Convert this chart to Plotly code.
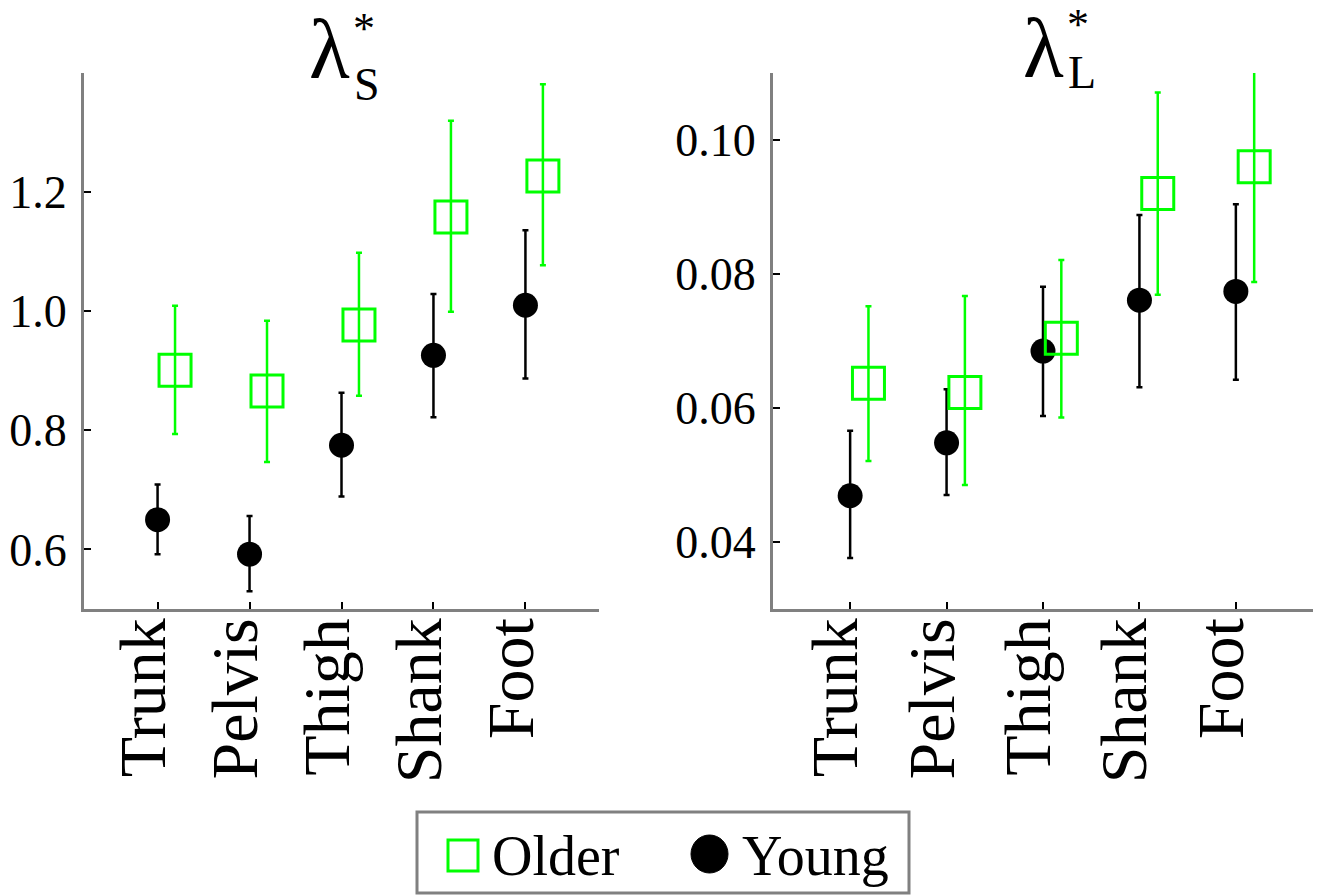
import plotly.graph_objects as go

categories = ["Trunk", "Pelvis", "Thigh", "Shank", "Foot"]

# lambda*_S
s_young = [0.650, 0.592, 0.775, 0.926, 1.010]
s_young_hi = [0.709, 0.656, 0.863, 1.029, 1.136]
s_young_lo = [0.592, 0.530, 0.689, 0.822, 0.887]
s_older = [0.901, 0.866, 0.977, 1.158, 1.227]
s_older_hi = [1.009, 0.984, 1.098, 1.320, 1.381]
s_older_lo = [0.794, 0.747, 0.858, 0.999, 1.077]

# lambda*_L
l_young = [0.0469, 0.0548, 0.0685, 0.0761, 0.0774]
l_young_hi = [0.0566, 0.0628, 0.0781, 0.0888, 0.0904]
l_young_lo = [0.0376, 0.0470, 0.0588, 0.0631, 0.0642]
l_older = [0.0637, 0.0623, 0.0704, 0.0920, 0.0960]
l_older_hi = [0.0752, 0.0767, 0.0821, 0.1071, 0.1140]
l_older_lo = [0.0521, 0.0485, 0.0586, 0.0769, 0.0788]

s_ticks = [0.6, 0.8, 1.0, 1.2]
s_ticklabels = ["0.6", "0.8", "1.0", "1.2"]
l_ticks = [0.04, 0.06, 0.08, 0.10]
l_ticklabels = ["0.04", "0.06", "0.08", "0.10"]

GREEN = "#00ff00"
GREY = "#808080"
FONT = "Liberation Serif"
W, H = 1322, 896
OFFSET = 0.19            # horizontal offset of the Older markers
LABEL_SHIFT = -0.15      # rotated category labels sit slightly left of their ticks
XRANGE = [0.2, 5.8]

xpos = [i + 1 for i in range(len(categories))]
xpos_old = [x + OFFSET for x in xpos]
xpos_lab = [x + LABEL_SHIFT for x in xpos]


def px(x):
    return x / W


def py(y):
    return 1 - y / H


fig = go.Figure()


def add_panel(xa, ya, young, yhi, ylo, older, ohi, olo):
    fig.add_trace(go.Scatter(
        x=xpos, y=young, mode="markers", xaxis=xa, yaxis=ya, showlegend=False,
        marker=dict(symbol="circle", size=25, color="black"),
        error_y=dict(type="data", symmetric=False,
                     array=[h - v for h, v in zip(yhi, young)],
                     arrayminus=[v - l for l, v in zip(ylo, young)],
                     color="black", thickness=2.5, width=3)))
    fig.add_trace(go.Scatter(
        x=xpos_old, y=older, mode="markers", xaxis=xa, yaxis=ya, showlegend=False,
        marker=dict(symbol="square-open", size=32, color=GREEN, line=dict(width=3, color=GREEN)),
        error_y=dict(type="data", symmetric=False,
                     array=[h - v for h, v in zip(ohi, older)],
                     arrayminus=[v - l for l, v in zip(olo, older)],
                     color=GREEN, thickness=2.5, width=3)))


add_panel("x", "y", s_young, s_young_hi, s_young_lo, s_older, s_older_hi, s_older_lo)
add_panel("x2", "y2", l_young, l_young_hi, l_young_lo, l_older, l_older_hi, l_older_lo)

xcommon = dict(range=XRANGE, tickmode="array", tickvals=xpos, showticklabels=False,
               ticks="inside", ticklen=7, tickwidth=2, tickcolor="black",
               showline=True, linecolor=GREY, linewidth=3, showgrid=False, zeroline=False,
               fixedrange=True)
xlabels = dict(range=XRANGE, tickmode="array", tickvals=xpos_lab, ticktext=categories,
               tickangle=-90, ticks="", showline=False, showgrid=False, zeroline=False,
               ticklabelstandoff=-5,
               tickfont=dict(family=FONT, size=66, color="black"), fixedrange=True)
ycommon = dict(ticks="inside", ticklen=7, tickwidth=2, tickcolor="black",
               showline=True, linecolor=GREY, linewidth=3, showgrid=False, zeroline=False,
               ticklabelstandoff=5,
               tickfont=dict(family=FONT, size=46, color="black"), fixedrange=True)

dom1 = [px(84), px(599)]
dom2 = [px(773), px(1313)]
ydom = [py(609), py(73)]

fig.update_layout(
    width=W, height=H, margin=dict(l=0, r=0, t=0, b=0),
    paper_bgcolor="white", plot_bgcolor="white", showlegend=False,
    xaxis=dict(domain=dom1, anchor="y", **xcommon),
    xaxis2=dict(domain=dom2, anchor="y2", **xcommon),
    xaxis3=dict(domain=dom1, anchor="y", overlaying="x", **xlabels),
    xaxis4=dict(domain=dom2, anchor="y2", overlaying="x2", **xlabels),
    yaxis=dict(domain=ydom, anchor="x", range=[0.5, 1.4],
               tickvals=s_ticks, ticktext=s_ticklabels, **ycommon),
    yaxis2=dict(domain=ydom, anchor="x2", range=[0.03, 0.11],
                tickvals=l_ticks, ticktext=l_ticklabels, **ycommon),
)

# empty traces so that the label-only axes are drawn
fig.add_trace(go.Scatter(x=[], y=[], xaxis="x3", yaxis="y", showlegend=False, hoverinfo="skip"))
fig.add_trace(go.Scatter(x=[], y=[], xaxis="x4", yaxis="y2", showlegend=False, hoverinfo="skip"))


def text(t, x, y, size, xanchor="center", yanchor="middle"):
    fig.add_annotation(text=t, x=px(x), y=py(y), xref="paper", yref="paper",
                       xanchor=xanchor, yanchor=yanchor, showarrow=False,
                       font=dict(family=FONT, size=size, color="black"))


# panel titles: lambda, superscript asterisk, subscript letter
text("λ", 352, 50, 84, xanchor="right")
text("*", 351, 29, 44, xanchor="left")
text("S", 352, 84, 46, xanchor="left")
text("λ", 1066, 48, 84, xanchor="right")
text("*", 1065, 25, 44, xanchor="left")
text("L", 1066, 72, 46, xanchor="left")

# legend
fig.add_shape(type="rect", xref="paper", yref="paper",
              x0=px(417), x1=px(909), y0=py(893), y1=py(812),
              line=dict(color=GREY, width=3), fillcolor="white")
fig.add_shape(type="rect", xref="paper", yref="paper",
              x0=px(448), x1=px(478), y0=py(871), y1=py(840),
              line=dict(color=GREEN, width=3))
fig.add_shape(type="circle", xref="paper", yref="paper",
              x0=px(691), x1=px(728), y0=py(873), y1=py(835),
              line=dict(color="black", width=1), fillcolor="black")
text("Older", 490, 856, 56, xanchor="left")
text("Young", 740, 856, 56, xanchor="left")

# remove the default 8px page margin so the figure fills the window exactly
fig.write_html("out.html",
               config={"displayModeBar": False},
               post_script="document.body.style.margin='0';document.body.style.overflow='hidden';")
